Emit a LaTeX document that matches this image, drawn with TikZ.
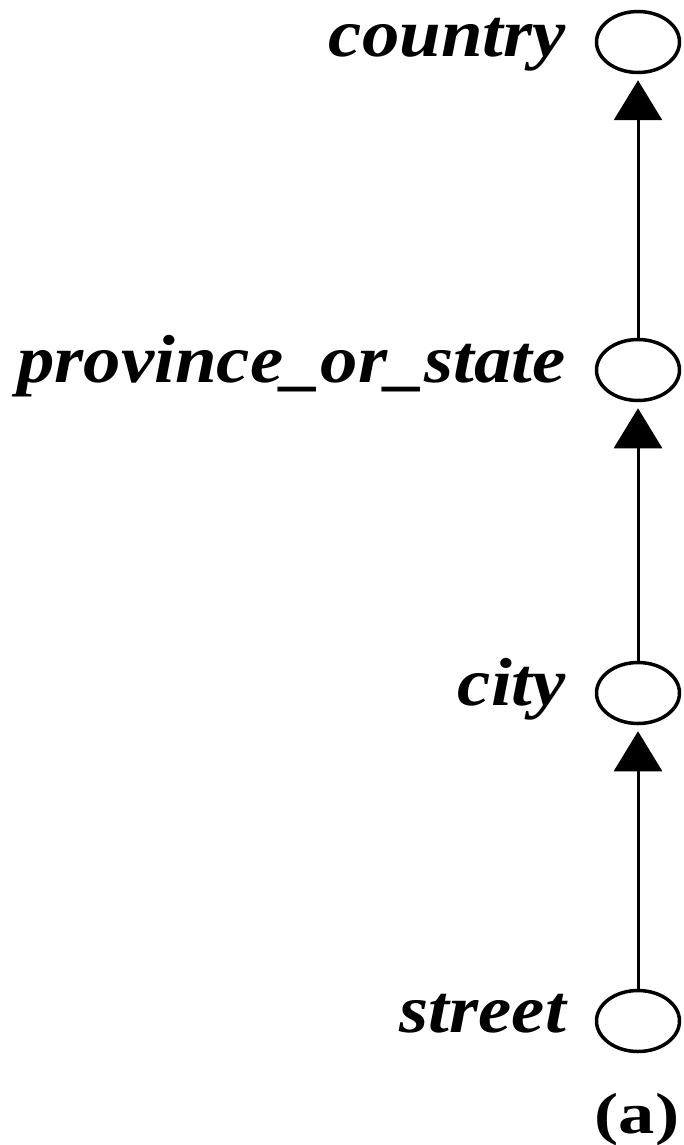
\documentclass[tikz,border=0pt]{standalone}
\usepackage{fontspec}
\setmainfont{Liberation Serif}
\usetikzlibrary{arrows.meta,shapes.geometric}

\newcommand{\wide}[2][1.13]{\scalebox{#1}[1]{#2}}

\begin{document}
\begin{tikzpicture}[x=1pt,y=-1pt,
  level/.style={ellipse,draw,line width=3.5pt,minimum width=83pt,minimum height=61pt,inner sep=0pt},
  lbl/.style={anchor=base east,inner sep=0pt,font=\fontsize{68}{72}\selectfont\bfseries\itshape},
  up/.style={-{Triangle[width=48pt,length=40pt]},line width=3pt,shorten >=6pt}]
  \useasboundingbox (0,0) rectangle (683,1145);
  % hierarchy levels
  \node[level] (country) at (638,42) {};
  \node[level] (province) at (638,370) {};
  \node[level] (city) at (638,693) {};
  \node[level] (street) at (638,1021) {};
  \node[lbl] (countrylbl) at (566,57) {\wide[1.1]{country}};
  \node[lbl] (provincelbl) at (566,382) {\wide[1.1]{province\_or\_state}};
  \node[lbl] (citylbl) at (566,705) {\wide[1.1]{city}};
  \node[lbl] (streetlbl) at (566,1032) {\wide[1.1]{street}};
  \draw[up] (street) -- (city);
  \draw[up] (city) -- (province);
  \draw[up] (province) -- (country);
  \node[anchor=base,inner sep=0pt,font=\fontsize{58}{60}\selectfont\bfseries] (caption) at (637,1133) {\wide[1.25]{(a)}};
\end{tikzpicture}
\end{document}
